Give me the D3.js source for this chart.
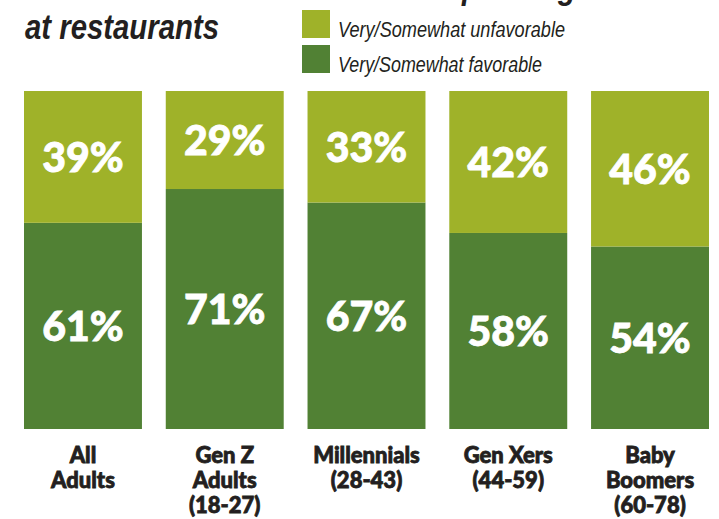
<!DOCTYPE html>
<html>
<head>
<meta charset="utf-8">
<script src="https://cdn.jsdelivr.net/npm/d3@7"></script>
<style>
  html, body { margin: 0; padding: 0; background: #ffffff; }
  svg { display: block; }
</style>
</head>
<body>
<svg id="chart" width="719" height="519"></svg>
<script>
// Generations and their label lines
const categories = ["All Adults", "Gen Z Adults", "Millennials", "Gen Xers", "Baby Boomers"];
const categoryLines = [
  ["All", "Adults"],
  ["Gen Z", "Adults", "(18-27)"],
  ["Millennials", "(28-43)"],
  ["Gen Xers", "(44-59)"],
  ["Baby", "Boomers", "(60-78)"]
];

// Share of respondents (%)
const favorable   = [61, 71, 67, 58, 54];
const unfavorable = [39, 29, 33, 42, 46];

const seriesNames = ["Very/Somewhat unfavorable", "Very/Somewhat favorable"];
const seriesKeys  = ["unfavorable", "favorable"];
const colors = { unfavorable: "#9fb229", favorable: "#518134" };
const ink = "#231f20";

const rows = categories.map((c, i) => ({
  category: c,
  favorable: favorable[i],
  unfavorable: unfavorable[i]
}));

const svg = d3.select("#chart");

const x = d3.scaleBand()
  .domain(categories)
  .range([24, 709])
  .paddingInner(0.168)
  .paddingOuter(0);

const y = d3.scaleLinear().domain([0, 100]).range([429, 91]);

// favorable sits at the bottom, unfavorable stacked on top
const stack = d3.stack().keys(["favorable", "unfavorable"]);
const layers = stack(rows);

const g = svg.append("g");
layers.forEach(layer => {
  const key = layer.key;
  g.selectAll(null)
    .data(layer)
    .join("rect")
    .attr("x", d => x(d.data.category))
    .attr("width", x.bandwidth())
    .attr("y", d => y(d[1]))
    .attr("height", d => y(d[0]) - y(d[1]))
    .attr("fill", colors[key]);

  g.selectAll(null)
    .data(layer)
    .join("text")
    .attr("x", d => x(d.data.category) + x.bandwidth() / 2)
    .attr("y", d => (y(d[0]) + y(d[1])) / 2 + 15)
    .attr("text-anchor", "middle")
    .attr("fill", "#ffffff")
    .attr("stroke", "#ffffff")
    .attr("stroke-width", 0.8)
    .style("font-family", "Lato, 'Liberation Sans', sans-serif")
    .style("font-weight", 900)
    .style("font-size", "41px")
    .text(d => d.data[key] + "%");
});

// Category labels under each bar
const labels = svg.append("g");
categories.forEach((c, i) => {
  const t = labels.append("text")
    .attr("x", x(c) + x.bandwidth() / 2)
    .attr("y", 463)
    .attr("text-anchor", "middle")
    .attr("fill", ink)
    .attr("stroke", ink)
    .attr("stroke-width", 0.8)
    .style("font-family", "Lato, 'Liberation Sans', sans-serif")
    .style("font-weight", 900)
    .style("font-size", "22px");
  categoryLines[i].forEach((line, j) => {
    t.append("tspan")
      .attr("x", x(c) + x.bandwidth() / 2)
      .attr("y", 463 + j * 25)
      .text(line);
  });
});

// Condensed italic text: squeeze glyphs to a target width
function condensed(sel, width) {
  sel.attr("textLength", width).attr("lengthAdjust", "spacingAndGlyphs");
  return sel;
}

const titleFont = sel => sel
  .attr("fill", ink)
  .style("font-family", "'Liberation Sans', sans-serif")
  .style("font-style", "italic")
  .style("font-weight", "bold")
  .style("font-size", "35px");

const title2 = svg.append("text")
  .attr("x", 25)
  .attr("y", 39)
  .call(titleFont)
  .text("at restaurants");
const natural2 = title2.node().getComputedTextLength();
const squeeze = 194 / natural2;
condensed(title2, 194);

// First title line runs off the top edge
const title1 = svg.append("text")
  .attr("y", -1)
  .call(titleFont)
  .text("Consumer attitudes on spending");
const w1 = title1.node().getComputedTextLength() * squeeze;
title1.attr("x", 576 - w1);
condensed(title1, w1);

// Legend
const legend = svg.append("g");
const legendWidths = [227, 204];
seriesKeys.forEach((k, i) => {
  legend.append("rect")
    .attr("x", 302)
    .attr("y", 10 + i * 35)
    .attr("width", 28)
    .attr("height", 28)
    .attr("fill", colors[k]);
  legend.append("text")
    .attr("x", 338)
    .attr("y", 36.5 + i * 35)
    .attr("fill", ink)
    .style("font-family", "'Liberation Sans', sans-serif")
    .style("font-style", "italic")
    .style("font-size", "22px")
    .text(seriesNames[i])
    .call(condensed, legendWidths[i]);
});
</script>
</body>
</html>
